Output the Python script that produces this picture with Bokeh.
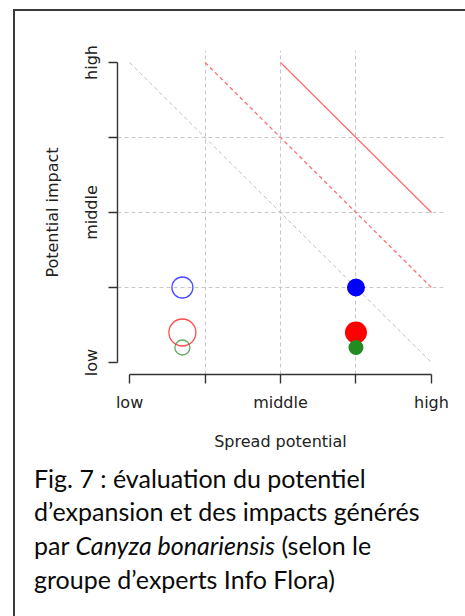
from bokeh.plotting import figure
from bokeh.models import FixedTicker, Range1d, Div
from bokeh.layouts import column
from bokeh.embed import file_html
from bokeh.resources import INLINE

# ---- data ----
levels = [0, 1, 2, 3, 4]
level_labels = ["low", "", "middle", "", "high"]
grid_levels = [1, 2, 3]

# current situation (open circles) and future situation (filled circles)
point_colors = ["#0000FF", "#FF0000", "#228B22"]
spread_now = [0.7, 0.7, 0.7]
impact_now = [1.0, 0.4, 0.2]
spread_future = [3.0, 3.0, 3.0]
impact_future = [1.0, 0.4, 0.2]
size_now = [21, 27, 15]
size_future = [18, 22, 15]

diag_x = [0, 4]
diag_y = [4, 0]
thr_dashed_x = [1, 4]
thr_dashed_y = [4, 1]
thr_solid_x = [2, 4]
thr_solid_y = [4, 2]

caption_html = [
    "Fig. 7 : évaluation du potentiel",
    "d\u2019expansion et des impacts générés",
    "par <i>Canyza bonariensis</i> (selon le",
    "groupe d\u2019experts Info Flora)",
]

# ---- figure ----
p = figure(width=465, height=456,
           x_range=Range1d(-0.16, 4.16), y_range=Range1d(-0.16, 4.16),
           output_backend="svg", toolbar_location=None,
           min_border_left=117, min_border_right=22,
           min_border_top=50, min_border_bottom=82,
           x_axis_label="Spread potential", y_axis_label="Potential impact")
p.outline_line_color = None
p.background_fill_color = "white"
p.border_fill_color = "white"

overrides = {lv: lb for lv, lb in zip(levels, level_labels)}
for ax in (p.xaxis[0], p.yaxis[0]):
    ax.ticker = FixedTicker(ticks=levels)
    ax.major_label_overrides = overrides
    ax.bounds = (0, 4)
    ax.minor_tick_line_color = None
    ax.major_tick_in = 0
    ax.major_tick_out = 9
    ax.axis_line_color = "#333333"
    ax.axis_line_width = 1.4
    ax.major_tick_line_color = "#333333"
    ax.major_tick_line_width = 1.4
    ax.major_label_text_font = "DejaVu Sans"
    ax.major_label_text_font_size = "16px"
    ax.major_label_text_color = "#222222"
    ax.axis_label_text_font = "DejaVu Sans"
    ax.axis_label_text_font_size = "16px"
    ax.axis_label_text_font_style = "normal"
    ax.axis_label_text_color = "#222222"
p.xaxis[0].major_label_standoff = 9
p.xaxis[0].axis_label_standoff = 17
p.yaxis[0].major_label_orientation = "vertical"
p.yaxis[0].major_label_standoff = 8
p.yaxis[0].axis_label_standoff = 17

for g in (p.xgrid[0], p.ygrid[0]):
    g.ticker = FixedTicker(ticks=grid_levels)
    g.bounds = (0, 4)
    g.grid_line_color = "#C8C8C8"
    g.grid_line_dash = "4 3"
    g.grid_line_width = 1

p.line(diag_x, diag_y, line_color="#BEBEBE", line_dash="4 3", line_width=1)
p.line(thr_dashed_x, thr_dashed_y, line_color="#FF6E6E", line_dash="4 3", line_width=1.3)
p.line(thr_solid_x, thr_solid_y, line_color="#FF6E6E", line_width=1.3)

p.scatter(spread_now, impact_now, size=size_now, marker="circle",
          fill_color=None, line_color=point_colors, line_alpha=0.7, line_width=1.3)
p.scatter(spread_future, impact_future, size=size_future, marker="circle",
          fill_color=point_colors, line_color=None)

# ---- caption + box frame ----
box = ('<div style="position:fixed;left:13px;top:9px;width:470px;height:620px;'
       'border-left:2px solid #3A3A3A;border-top:2px solid #3A3A3A;'
       'pointer-events:none;box-sizing:border-box;"></div>')
text = ('<div style="font-family:Lato, sans-serif;font-size:25px;line-height:33.6px;'
        'color:#0A0A0A;white-space:nowrap;padding:5.8px 0 0 34px;margin:0;">'
        + "<br>".join(caption_html) + "</div>")
div = Div(text=box + text, width=465, height=156, margin=0)

layout = column(p, div, spacing=0, margin=0)
open("out.html", "w").write(file_html(layout, INLINE))
